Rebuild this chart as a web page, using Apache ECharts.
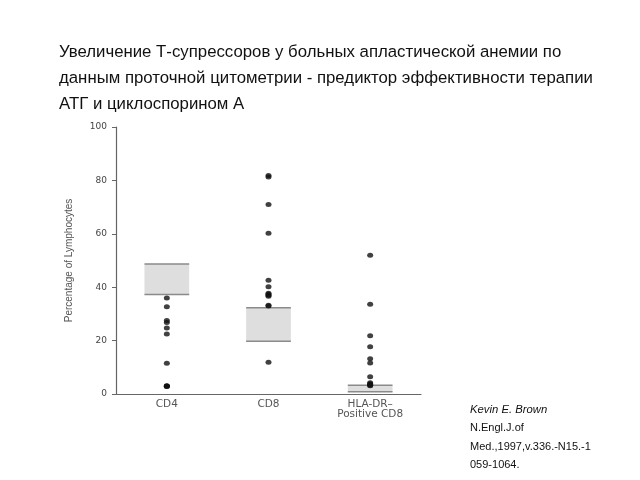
<!DOCTYPE html>
<html><head><meta charset="utf-8">
<script src="https://cdn.jsdelivr.net/npm/echarts@6/dist/echarts.min.js"></script>
<style>html,body{margin:0;padding:0;background:#fff}#c{width:640px;height:480px}</style>
</head><body><div id="c"></div>
<script>
const titleLines = [
  'Увеличение Т-супрессоров у больных апластической анемии по',
  'данным проточной цитометрии - предиктор эффективности терапии',
  'АТГ и циклоспорином А'
];
const citation = ['Kevin E. Brown', 'N.Engl.J.of', 'Med.,1997,v.336.-N15.-1', '059-1064.'];
const categories = ['CD4', 'CD8', 'HLA-DR–\nPositive CD8'];
const yTicks = [0, 20, 40, 60, 80, 100];
const cd4Values = [36, 32.7, 27.5, 26.8, 24.7, 22.5, 11.5, 3.1, 3, 2.9, 2.8];
const cd8Values = [81.8, 81.3, 71, 60.2, 42.6, 40.2, 37.7, 37.4, 37, 36.6, 33.2, 33, 11.9];
const hlaValues = [52, 33.6, 21.8, 17.7, 13.2, 11.6, 6.5, 4.2, 3.8, 3.6, 3.3, 3.1];
const boxLow = [37.3, 19.8, 0.8];
const boxHigh = [48.7, 32.3, 3.3];

const pts = [];
[cd4Values, cd8Values, hlaValues].forEach((arr, i) => arr.forEach(v => pts.push([categories[i], v])));
const boxes = categories.map((c, i) => [i, boxLow[i], boxHigh[i]]);

const chart = echarts.init(document.getElementById('c'));
chart.setOption({
  animation: false,
  backgroundColor: '#fff',
  graphic: [
    ...titleLines.map((t, i) => ({
      type: 'text', left: 59, top: 44 + i * 26,
      style: { text: t, font: '16.8px "Liberation Sans", Arial, sans-serif', fill: '#111' }
    })),
    ...citation.map((t, i) => ({
      type: 'text', left: 470, top: 404 + i * 18.5,
      style: { text: t, font: (i === 0 ? 'italic 11.3px ' : '11px ') + '"Liberation Sans", Arial, sans-serif', fill: '#111' }
    }))
  ],
  grid: { left: 116, right: 219, top: 127, bottom: 86, containLabel: false },
  xAxis: {
    type: 'category', data: categories, boundaryGap: true,
    axisLine: { lineStyle: { color: '#666', width: 1.2 } },
    axisTick: { alignWithLabel: true, length: 4, lineStyle: { color: '#666' } },
    axisLabel: { color: '#555', fontSize: 10.5, fontFamily: '"DejaVu Sans", sans-serif', margin: 5, lineHeight: 10 }
  },
  yAxis: {
    type: 'value', min: 0, max: 100, interval: 20,
    name: 'Percentage of Lymphocytes', nameLocation: 'middle', nameGap: 42, nameRotate: 90,
    nameTextStyle: { color: '#555', fontSize: 10, fontFamily: '"Liberation Sans Narrow", "Liberation Sans", sans-serif' },
    axisLine: { show: true, lineStyle: { color: '#666', width: 1.2 } },
    axisTick: { show: true, length: 4, lineStyle: { color: '#666' } },
    splitLine: { show: false },
    axisLabel: { color: '#444', fontSize: 9, fontFamily: '"DejaVu Sans", sans-serif', margin: 9,
      formatter: v => yTicks.includes(v) ? String(v) : '' }
  },
  series: [
    {
      type: 'custom', data: boxes, z: 1,
      renderItem: (params, api) => {
        const top = api.coord([api.value(0), api.value(2)]);
        const bot = api.coord([api.value(0), api.value(1)]);
        const w = api.size([1, 0])[0] * 0.44;
        const x0 = top[0] - w / 2;
        return {
          type: 'group', children: [
            { type: 'rect', shape: { x: x0, y: top[1], width: w, height: bot[1] - top[1] }, style: { fill: '#dedede' } },
            { type: 'line', shape: { x1: x0, y1: top[1], x2: x0 + w, y2: top[1] }, style: { stroke: '#8a8a8a', lineWidth: 1.5 } },
            { type: 'line', shape: { x1: x0, y1: bot[1], x2: x0 + w, y2: bot[1] }, style: { stroke: '#8a8a8a', lineWidth: 1.5 } }
          ]
        };
      }
    },
    {
      type: 'scatter', data: pts, z: 3,
      symbol: 'circle', symbolSize: [6, 5],
      itemStyle: { color: '#111' }
    }
  ]
});
</script></body></html>
